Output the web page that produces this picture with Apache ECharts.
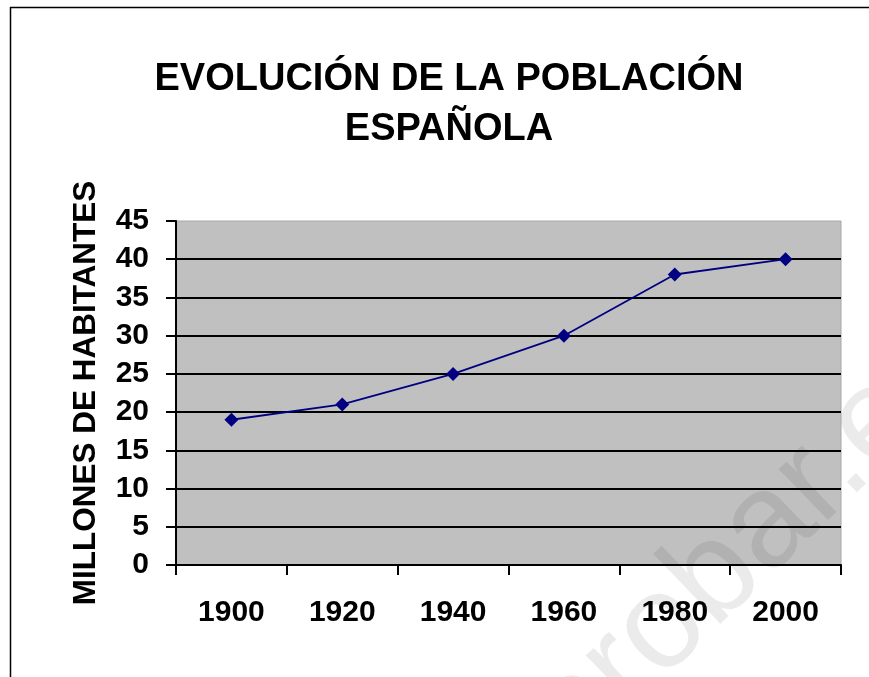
<!DOCTYPE html>
<html>
<head>
<meta charset="utf-8">
<script src="https://cdn.jsdelivr.net/npm/echarts@6/dist/echarts.min.js"></script>
<style>
html,body{margin:0;padding:0;background:#fff;}
#chart{width:869px;height:677px;}
</style>
</head>
<body>
<div id="chart"></div>
<script>
const categories = ['1900', '1920', '1940', '1960', '1980', '2000'];
const population = [19, 21, 25, 30, 38, 40];
const yTicks = [0, 5, 10, 15, 20, 25, 30, 35, 40, 45];
const titleText = 'EVOLUCIÓN DE LA POBLACIÓN\nESPAÑOLA';
const yAxisName = 'MILLONES DE HABITANTES';
const watermarkText = 'aprobar.es';

const chart = echarts.init(document.getElementById('chart'), null, {renderer: 'canvas'});
const font = 'Arial, "Liberation Sans", Helvetica, sans-serif';

chart.setOption({
  backgroundColor: '#ffffff',
  animation: false,
  title: {
    text: titleText,
    left: 444,
    textAlign: 'center',
    top: 50,
    textStyle: {
      fontFamily: font,
      fontWeight: 'bold',
      fontSize: 38,
      lineHeight: 50,
      color: '#000'
    }
  },
  grid: {
    left: 176,
    top: 221,
    right: 28,
    bottom: 112,
    show: true,
    backgroundColor: '#c0c0c0',
    borderColor: '#a8a8a8',
    borderWidth: 1
  },
  xAxis: {
    type: 'category',
    data: categories,
    boundaryGap: true,
    axisLine: {show: true, lineStyle: {color: '#000', width: 2}},
    axisTick: {show: true, alignWithLabel: false, length: 10, lineStyle: {color: '#000', width: 2}},
    axisLabel: {
      margin: 33,
      fontFamily: font,
      fontWeight: 'bold',
      fontSize: 30,
      color: '#000'
    },
    splitLine: {show: false}
  },
  yAxis: {
    type: 'value',
    min: yTicks[0],
    max: yTicks[yTicks.length - 1],
    interval: yTicks[1] - yTicks[0],
    name: yAxisName,
    nameLocation: 'middle',
    nameGap: 74,
    nameRotate: 90,
    nameTextStyle: {
      fontFamily: font,
      fontWeight: 'bold',
      fontSize: 31.5,
      color: '#000'
    },
    axisLine: {show: true, lineStyle: {color: '#000', width: 2}},
    axisTick: {show: true, length: 10, lineStyle: {color: '#000', width: 2}},
    axisLabel: {
      margin: 27,
      fontFamily: font,
      fontWeight: 'bold',
      fontSize: 30,
      color: '#000'
    },
    splitLine: {show: true, showMaxLine: false, lineStyle: {color: '#000', width: 2}}
  },
  series: [{
    type: 'line',
    data: population,
    symbol: 'diamond',
    symbolSize: 14,
    lineStyle: {color: '#000080', width: 1.8},
    itemStyle: {color: '#000080'},
    z: 5
  }],
  graphic: [
    {
      type: 'line',
      shape: {x1: 10, y1: 7.5, x2: 869, y2: 7.5},
      style: {stroke: '#000', lineWidth: 1.5},
      silent: true
    },
    {
      type: 'line',
      shape: {x1: 10.5, y1: 7, x2: 10.5, y2: 677},
      style: {stroke: '#000', lineWidth: 1.5},
      silent: true
    },
    {
      type: 'text',
      x: 542,
      y: 838,
      rotation: Math.PI * 44 / 180,
      z: 100,
      silent: true,
      style: {
        text: watermarkText,
        fontFamily: font,
        fontSize: 134,
        fill: 'rgba(0,0,0,0.08)',
        textAlign: 'left',
        textVerticalAlign: 'bottom'
      }
    }
  ]
});
</script>
</body>
</html>
